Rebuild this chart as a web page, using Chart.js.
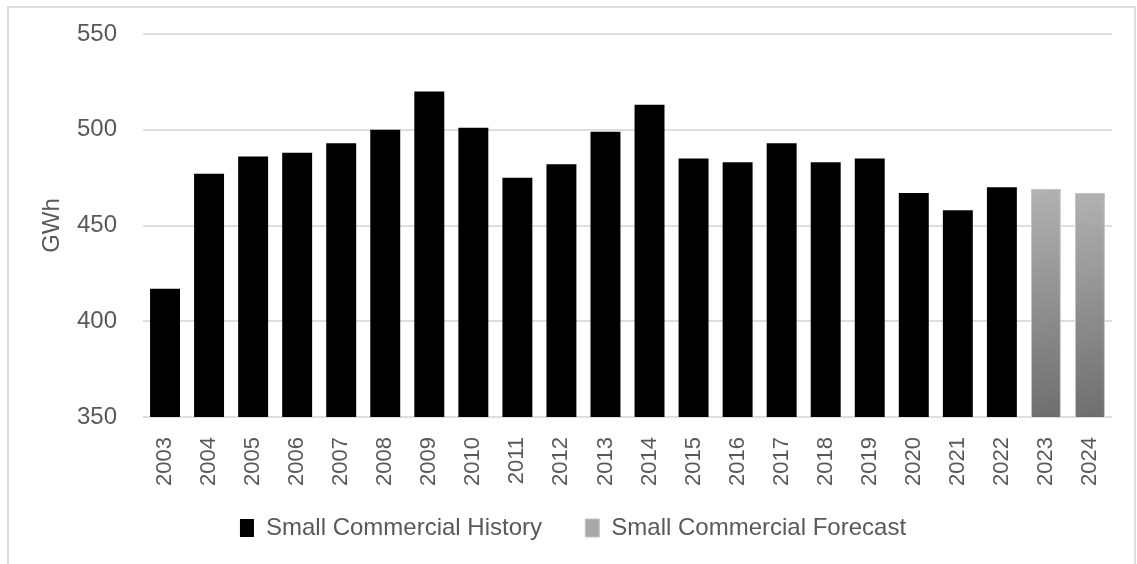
<!DOCTYPE html>
<html lang="en">
<head>
    <meta charset="UTF-8">
    <title>Small Commercial Energy</title>
    <script src="https://cdn.jsdelivr.net/npm/chart.js"></script>
    <style>
        * {
            margin: 0;
            padding: 0;
            box-sizing: border-box;
        }

        body {
            background: #fff;
            width: 1137px;
            height: 564px;
            overflow: hidden;
            position: relative;
        }

        /* thin frame around the chart (open at the bottom) */
        .frame {
            position: absolute;
            left: 7px;
            top: 6px;
            width: 1129px;
            height: 570px;
            border: 2px solid #dcdcdc;
            border-bottom: none;
        }

        .chart-box {
            position: absolute;
            left: 0;
            top: 0;
            width: 1137px;
            height: 564px;
        }
    </style>
</head>
<body>
    <div class="frame"></div>
    <div class="chart-box">
        <canvas id="energyChart"></canvas>
    </div>

    <script>
        // Annual energy, GWh
        const years = ['2003', '2004', '2005', '2006', '2007', '2008', '2009', '2010', '2011', '2012', '2013',
                       '2014', '2015', '2016', '2017', '2018', '2019', '2020', '2021', '2022', '2023', '2024'];
        const historyGWh = [417, 477, 486, 488, 493, 500, 520, 501, 475, 482, 499,
                            513, 485, 483, 493, 483, 485, 467, 458, 470, null, null];
        const forecastGWh = [null, null, null, null, null, null, null, null, null, null, null,
                             null, null, null, null, null, null, null, null, null, 469, 467];
        const yTicks = [350, 400, 450, 500, 550];

        const textGray = '#595959';
        const fontFamily = "'Liberation Sans', Arial, sans-serif";
        const barPct = 0.68;

        // grey shaded fill for the forecast bars
        function forecastFill(ctx) {
            const chart = ctx.chart;
            const xs = chart.scales.x, ys = chart.scales.y;
            if (ctx.type !== 'data' || !xs || !ys || ctx.raw == null) return '#a8a8a8';
            const half = xs.width / years.length * barPct / 2;
            const cx = xs.getPixelForValue(ctx.dataIndex);
            const top = ys.getPixelForValue(ctx.raw);
            const bottom = ys.getPixelForValue(yTicks[0]);
            const g = chart.ctx.createLinearGradient(cx - half, top, cx + half, bottom);
            g.addColorStop(0, '#b2b2b2');
            g.addColorStop(1, '#6e6e6e');
            return g;
        }

        const ctx = document.getElementById('energyChart').getContext('2d');
        const energyChart = new Chart(ctx, {
            type: 'bar',
            data: {
                labels: years,
                datasets: [
                    {
                        label: 'Small Commercial History',
                        data: historyGWh,
                        backgroundColor: '#000',
                        borderWidth: 0
                    },
                    {
                        label: 'Small Commercial Forecast',
                        data: forecastGWh,
                        backgroundColor: forecastFill,
                        borderColor: '#c4c4c4',
                        borderWidth: 1
                    }
                ]
            },
            options: {
                responsive: true,
                maintainAspectRatio: false,
                animation: false,
                barPercentage: barPct,
                categoryPercentage: 1,
                layout: { padding: { left: 34, right: 25, top: 34, bottom: 14 } },
                plugins: {
                    tooltip: { enabled: false },
                    legend: {
                        position: 'bottom',
                        labels: {
                            boxWidth: 14,
                            boxHeight: 18,
                            padding: 10,
                            color: textGray,
                            font: { family: fontFamily, size: 24 },
                            // wider gap after the first entry
                            generateLabels: (chart) => {
                                const items = Chart.defaults.plugins.legend.labels.generateLabels(chart);
                                items[0].text += '\u00a0\u00a0\u00a0\u00a0\u00a0';
                                return items;
                            }
                        }
                    }
                },
                scales: {
                    x: {
                        stacked: true,
                        grid: { display: false },
                        border: { display: false },
                        ticks: {
                            minRotation: 90,
                            maxRotation: 90,
                            padding: 12,
                            color: textGray,
                            font: { family: fontFamily, size: 22 }
                        },
                        afterFit: (scale) => { scale.height = 89; }
                    },
                    y: {
                        stacked: true,
                        min: 350,
                        max: 550,
                        afterBuildTicks: (scale) => { scale.ticks = yTicks.map(v => ({ value: v })); },
                        // invisible tick marks give the gap between labels and grid
                        grid: { color: '#dedede', lineWidth: 2, drawTicks: true, tickLength: 26, tickColor: 'rgba(0,0,0,0)' },
                        border: { display: false },
                        ticks: {
                            padding: 0,
                            color: textGray,
                            font: { family: fontFamily, size: 24 }
                        },
                        title: {
                            display: true,
                            text: 'GWh',
                            color: textGray,
                            font: { family: fontFamily, size: 24 }
                        },
                        afterFit: (scale) => { scale.width = 109; }
                    }
                }
            }
        });
    </script>
</body>
</html>
